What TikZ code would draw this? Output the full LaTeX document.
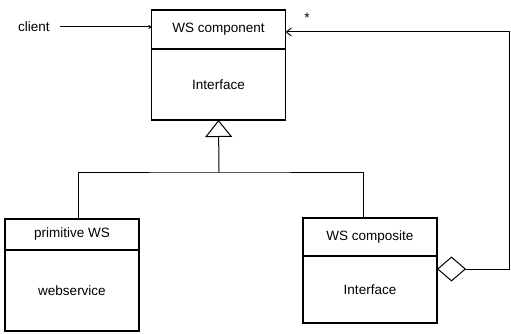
\documentclass[tikz,border=0pt]{standalone}
\usepackage{fontspec}
\setsansfont{Liberation Sans}
\usetikzlibrary{arrows.meta, positioning}

\begin{document}
\begin{tikzpicture}[
  x=1pt, y=-1pt,
  every node/.style={font=\sffamily\fontsize{13.5}{15}\selectfont},
  cls/.style={draw, line width=1.1pt, inner sep=0pt, outer sep=0pt,
              minimum width=134pt},
  ln/.style ={line width=1pt},
  gen/.style={ln, -{Triangle[open, length=17pt, width=27pt, line width=1pt]}},
  agg/.style={ln, {Diamond[open, length=29pt, width=25pt, line width=1pt]}-{Straight Barb[length=5pt, width=8pt]}}
]
\useasboundingbox (0,0) rectangle (511,334);

%% classes
\node[cls, minimum height=39pt] (cmphd) at (218.5,29.5) {WS component};
\node[cls, minimum height=71pt, below=0pt of cmphd] (cmpbd) {Interface};
\node[cls, minimum height=31pt] (prmhd) at (72,234.5) {primitive WS};
\node[cls, minimum height=81pt, below=0pt of prmhd] (prmbd) {webservice};
\node[cls, minimum height=38pt] (cpshd) at (370,237) {WS composite};
\node[cls, minimum height=67pt, below=0pt of cpshd] (cpsbd) {Interface};

%% client
\node (client) at (34,27) {client};
\draw[ln, -{Straight Barb[length=2pt, width=3pt]}, shorten <=7pt]
  (client.east) -- (client.east -| cmphd.west);

%% generalization
\coordinate (bar) at (219,172);
\draw[gen] (bar) -- (cmpbd.south);
\draw[ln] ([xshift=6pt]prmhd.north) |- (bar) -| ([xshift=-7pt]cpshd.north);

%% aggregation
\coordinate (rgt) at (509,269);
\draw[agg] ([yshift=-13pt]cpsbd.north east) -- (rgt) |- ([yshift=-2.5pt]cmphd.east);
\node at (307,18) {*};
\end{tikzpicture}
\end{document}
